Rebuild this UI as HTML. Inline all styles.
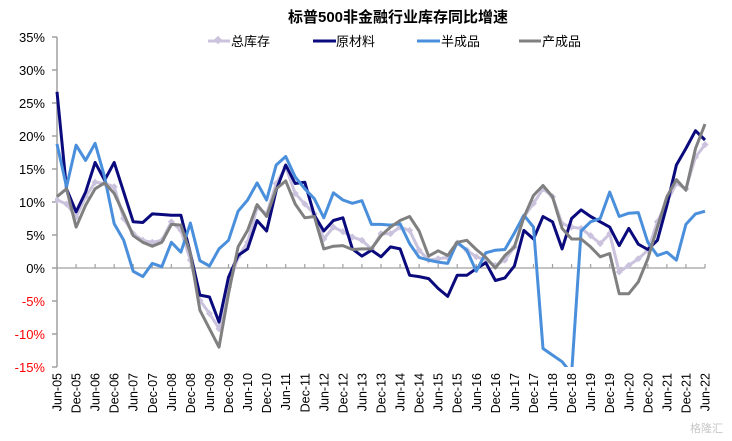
<!DOCTYPE html>
<html><head><meta charset="utf-8">
<style>
body{margin:0;background:#fff;}
svg{display:block;font-family:"Liberation Sans","Noto Sans CJK SC",sans-serif;}
</style></head>
<body>
<svg id="chart" width="732" height="441" viewBox="0 0 732 441" xmlns="http://www.w3.org/2000/svg">
<text x="398" y="22" text-anchor="middle" font-size="15" font-weight="bold" fill="#000">标普500非金融行业库存同比增速</text>
<g font-size="13" fill="#000">
  <g>
    <line x1="208" y1="41" x2="230" y2="41" stroke="#cbc3dd" stroke-width="3"/>
    <rect x="215" y="37" width="6" height="6" fill="#cbc3dd" transform="rotate(45 218 40)"/>
    <text x="231" y="46">总库存</text>
  </g>
  <g>
    <line x1="313" y1="41" x2="336" y2="41" stroke="#0a0a7d" stroke-width="3"/>
    <text x="336" y="46">原材料</text>
  </g>
  <g>
    <line x1="417" y1="41" x2="440" y2="41" stroke="#4a8fdc" stroke-width="3"/>
    <text x="441" y="46">半成品</text>
  </g>
  <g>
    <line x1="519" y1="41" x2="541" y2="41" stroke="#808080" stroke-width="3"/>
    <text x="542" y="46">产成品</text>
  </g>
</g>
<g id="axes"></g>
<g id="series"></g>
<text x="690" y="432" font-size="11" fill="#c8c8c8">格隆汇</text>
</svg>
<script>
const xLabels=["Jun-05","Dec-05","Jun-06","Dec-06","Jun-07","Dec-07","Jun-08","Dec-08","Jun-09","Dec-09","Jun-10","Dec-10","Jun-11","Dec-11","Jun-12","Dec-12","Jun-13","Dec-13","Jun-14","Dec-14","Jun-15","Dec-15","Jun-16","Dec-16","Jun-17","Dec-17","Jun-18","Dec-18","Jun-19","Dec-19","Jun-20","Dec-20","Jun-21","Dec-21","Jun-22"];
const yTicks=[35,30,25,20,15,10,5,0,-5,-10,-15];
const totalInv=[10.3,9.7,7.7,10.8,13.0,12.8,12.3,7.5,5.2,4.2,3.9,4.2,7.0,5.7,1.2,-4.9,-6.9,-9.2,-2.9,1.7,3.9,9.2,8.2,12.8,15.3,11.3,9.7,8.2,4.4,6.2,5.5,4.7,4.2,2.9,5.2,5.2,6.2,5.7,2.7,1.2,1.4,1.6,3.8,2.7,1.7,1.2,0.4,1.2,3.2,7.7,9.8,12.0,10.8,6.7,6.2,6.0,4.9,3.7,5.2,-0.6,0.4,1.4,2.7,7.0,10.0,12.8,12.0,16.8,18.7];
const rawMat=[26.7,12.0,8.5,11.5,16.0,13.3,16.0,11.5,7.0,6.9,8.2,8.1,8.0,8.0,2.2,-4.1,-4.4,-8.2,-1.4,1.9,2.9,7.2,5.6,11.8,15.6,12.8,13.0,8.0,5.6,7.2,7.6,2.9,1.8,2.7,1.7,3.2,2.9,-1.1,-1.3,-1.6,-3.1,-4.3,-1.1,-1.1,-0.1,0.8,-1.9,-1.5,0.3,5.7,4.4,7.8,7.0,2.9,7.5,8.8,7.8,7.0,6.2,3.4,6.0,3.6,2.8,4.2,9.5,15.6,18.1,20.8,19.4];
const semiFin=[18.8,12.3,18.6,16.3,18.9,13.8,6.7,4.2,-0.5,-1.3,0.7,0.2,3.9,2.4,6.8,1.1,0.3,2.9,4.2,8.6,10.3,12.9,10.3,15.6,16.9,13.8,12.0,10.5,7.6,11.4,10.3,9.8,10.2,6.6,6.6,6.5,6.7,3.7,1.6,1.2,0.9,0.7,3.9,2.7,-0.5,2.3,2.7,2.8,5.3,8.0,6.2,-12.2,-13.2,-14.2,-16,5.6,7.0,7.5,11.5,7.8,8.3,8.4,3.9,1.9,2.4,1.2,6.6,8.2,8.6];
const finished=[10.8,12.0,6.2,9.5,12.0,12.9,11.3,8.2,4.9,3.9,3.3,3.9,6.6,6.5,2.2,-6.4,-9.2,-12.0,-3.9,3.2,5.7,9.6,7.8,12.0,13.2,9.7,7.6,7.8,2.9,3.3,3.4,2.8,2.9,2.9,4.9,6.2,7.2,7.8,5.6,1.8,2.6,1.9,3.9,4.2,2.8,1.6,0,1.9,3.2,7.7,11.0,12.5,10.8,6.0,4.4,4.4,3.2,1.7,2.2,-3.9,-3.9,-2.1,1.4,6.2,10.8,13.4,11.8,18.1,21.8];

const NS="http://www.w3.org/2000/svg";
const X0=57,X1=705,YT=37,YB=367,VMAX=35,VMIN=-15;
const n=totalInv.length;
function xScale(i){return X0+(X1-X0)*i/(n-1);}
function yScale(v){return YT+(VMAX-v)/(VMAX-VMIN)*(YB-YT);}
function mk(tag,attrs,parent){const e=document.createElementNS(NS,tag);for(const k in attrs)e.setAttribute(k,attrs[k]);parent.appendChild(e);return e;}
const axes=document.getElementById('axes'),ser=document.getElementById('series');
// y axis
const ya=mk('line',{x1:X0,y1:YT,x2:X0,y2:YB,stroke:'#a0a0a0','stroke-width':1.5},axes);


yTicks.forEach(v=>{
  const y=yScale(v);
  const t=mk('line',{x1:X0-5,y1:y,x2:X0,y2:y,stroke:'#a0a0a0','stroke-width':1.5},axes);
  
  
  const l=mk('text',{x:45,y:y+5,'text-anchor':'end','font-size':13,fill:v<0?'#ff0000':'#000'},axes);
  l.textContent=v+'%';
  
  
});
// zero line
const z=mk('line',{x1:X0,y1:yScale(0),x2:X1,y2:yScale(0),stroke:'#a0a0a0','stroke-width':1.2},axes);


xLabels.forEach((lab,k)=>{
  const x=xScale(k*2),y0=yScale(0);
  const t=mk('line',{x1:x,y1:y0-4,x2:x,y2:y0,stroke:'#a0a0a0','stroke-width':1.2},axes);
  
  
  const l=mk('text',{x:0,y:0,'text-anchor':'end','font-size':12.5,fill:'#000',transform:`translate(${x+4.5},373) rotate(-90)`},axes);
  l.textContent=lab;
  
  
});
// clip
const defs=mk('defs',{},ser);
const cp=mk('clipPath',{id:'plotclip'},defs);
mk('rect',{x:X0-2,y:YT-2,width:X1-X0+15,height:YB-YT+2},cp);
function pts(arr){return arr.map((v,i)=>xScale(i).toFixed(1)+','+yScale(v).toFixed(1)).join(' ');}
// total with diamonds
const tg=mk('g',{'clip-path':'url(#plotclip)'},ser);


mk('polyline',{points:pts(totalInv),fill:'none',stroke:'#cbc3dd','stroke-width':3},tg);
totalInv.forEach((v,i)=>{
  const d=mk('rect',{x:xScale(i)-2.5,y:yScale(v)-2.5,width:5,height:5,fill:'#cbc3dd',transform:`rotate(45 ${xScale(i)} ${yScale(v)})`},tg);
  
  
});
const lines=[[rawMat,'#0a0a7d','series-raw-materials'],[semiFin,'#4a8fdc','series-semi-finished'],[finished,'#808080','series-finished-goods']];
lines.forEach(([arr,c,name])=>{
  const p=mk('polyline',{points:pts(arr),fill:'none',stroke:c,'stroke-width':3,'stroke-linejoin':'round','clip-path':'url(#plotclip)'},ser);
  
  
});
</script>
</body></html>
